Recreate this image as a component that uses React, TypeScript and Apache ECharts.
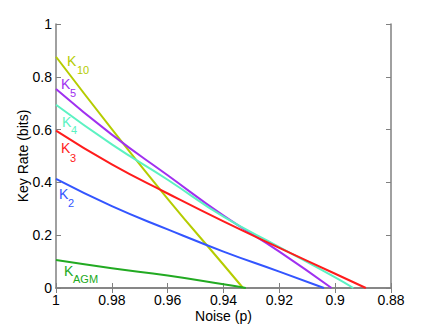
import React, { useEffect, useRef } from "react";
import * as echarts from "echarts";

const noiseK10 = [1, 0.98, 0.96, 0.94, 0.933];
const rateK10 = [0.876, 0.602, 0.338, 0.088, 0];
const noiseK5 = [1, 0.98, 0.96, 0.94, 0.92, 0.9013];
const rateK5 = [0.754, 0.581, 0.427, 0.274, 0.138, 0];
const noiseK4 = [1, 0.98, 0.96, 0.94, 0.92, 0.9, 0.8935];
const rateK4 = [0.694, 0.544, 0.41, 0.27, 0.155, 0.04, 0];
const noiseK3 = [1, 0.98, 0.96, 0.94, 0.92, 0.9, 0.889];
const rateK3 = [0.596, 0.468, 0.358, 0.252, 0.152, 0.054, 0];
const noiseK2 = [1, 0.98, 0.96, 0.94, 0.92, 0.904];
const rateK2 = [0.413, 0.31, 0.222, 0.138, 0.062, 0];
const noiseAGM = [1, 0.98, 0.96, 0.94, 0.932];
const rateAGM = [0.106, 0.075, 0.047, 0.014, 0];

const xTicks = [1, 0.98, 0.96, 0.94, 0.92, 0.9, 0.88];
const yTicks = [0, 0.2, 0.4, 0.6, 0.8, 1];

const colors = {
  k10: "#b5cc00",
  k5: "#a030f0",
  k4: "#5cf2c2",
  k3: "#ff1c1c",
  k2: "#3355ff",
  agm: "#22aa22",
};

const pairs = (xs: number[], ys: number[]) => xs.map((x, i) => [x, ys[i]]);

const FONT = "Liberation Sans, Arial, Helvetica, sans-serif";
const AXIS_COLOR = "#808080";

function label(main: string, sub: string, x: number, y: number, sx: number, sy: number, color: string) {
  return [
    {
      type: "text",
      x,
      y,
      style: { text: main, fill: color, font: `14px ${FONT}`, verticalAlign: "middle", align: "left" },
    },
    {
      type: "text",
      x: sx,
      y: sy,
      style: { text: sub, fill: color, font: `11px ${FONT}`, verticalAlign: "middle", align: "left" },
    },
  ];
}

export default function App() {
  const ref = useRef<HTMLDivElement>(null);
  useEffect(() => {
    if (!ref.current) return;
    const chart = echarts.init(ref.current, undefined, { renderer: "svg" });
    const fmt = (v: number) => String(+v.toFixed(2));
    const axisCommon = {
      type: "value",
      axisLine: { show: true, lineStyle: { color: AXIS_COLOR, width: 1.5 } },
      axisTick: { show: true, inside: true, length: 5, lineStyle: { color: AXIS_COLOR, width: 1 } },
      splitLine: { show: false },
    };
    const mkSeries = (name: string, xs: number[], ys: number[], color: string) => ({
      name,
      type: "line",
      data: pairs(xs, ys),
      showSymbol: false,
      symbol: "none",
      smooth: 0.5,
      lineStyle: { color, width: 2 },
      itemStyle: { color },
    });
    chart.setOption({
      animation: false,
      backgroundColor: "#ffffff",
      grid: { left: 56, right: 40, top: 24, bottom: 36, containLabel: false, outerBoundsMode: "none" },
      xAxis: [
        {
          ...axisCommon,
          position: "bottom",
          min: 0.88,
          max: 1,
          interval: 0.02,
          inverse: true,
          name: "Noise (p)",
          nameLocation: "middle",
          nameGap: 21,
          nameMoveOverlap: false,
          nameTextStyle: { color: "#000", fontSize: 14, fontFamily: FONT },
          axisLabel: { color: "#000", fontSize: 14, fontFamily: FONT, margin: 5, formatter: fmt, customValues: xTicks },
        },
        {
          ...axisCommon,
          position: "top",
          min: 0.88,
          max: 1,
          interval: 0.02,
          inverse: true,
          axisLabel: { show: false },
        },
      ],
      yAxis: [
        {
          ...axisCommon,
          position: "left",
          min: 0,
          max: 1,
          interval: 0.2,
          name: "Key Rate (bits)",
          nameLocation: "middle",
          nameGap: 26,
          nameMoveOverlap: false,
          nameTextStyle: { color: "#000", fontSize: 14, fontFamily: FONT },
          axisLabel: { color: "#000", fontSize: 14, fontFamily: FONT, margin: 4, formatter: fmt, customValues: yTicks },
        },
        {
          ...axisCommon,
          position: "right",
          min: 0,
          max: 1,
          interval: 0.2,
          axisLabel: { show: false },
        },
      ],
      series: [
        mkSeries("K10", noiseK10, rateK10, colors.k10),
        mkSeries("K5", noiseK5, rateK5, colors.k5),
        mkSeries("K4", noiseK4, rateK4, colors.k4),
        mkSeries("K3", noiseK3, rateK3, colors.k3),
        mkSeries("K2", noiseK2, rateK2, colors.k2),
        mkSeries("KAGM", noiseAGM, rateAGM, colors.agm),
      ],
      graphic: [
        ...label("K", "10", 67, 61, 77, 70, colors.k10),
        ...label("K", "5", 61, 84, 70, 93, colors.k5),
        ...label("K", "4", 62, 121.5, 71, 129.5, colors.k4),
        ...label("K", "3", 61, 148, 70, 157.5, colors.k3),
        ...label("K", "2", 59, 194, 68, 202.5, colors.k2),
        ...label("K", "AGM", 64, 271, 73, 278.5, colors.agm),
      ],
    });
    return () => chart.dispose();
  }, []);
  return <div ref={ref} style={{ position: "fixed", left: 0, top: 0, width: 431, height: 324 }} />;
}
